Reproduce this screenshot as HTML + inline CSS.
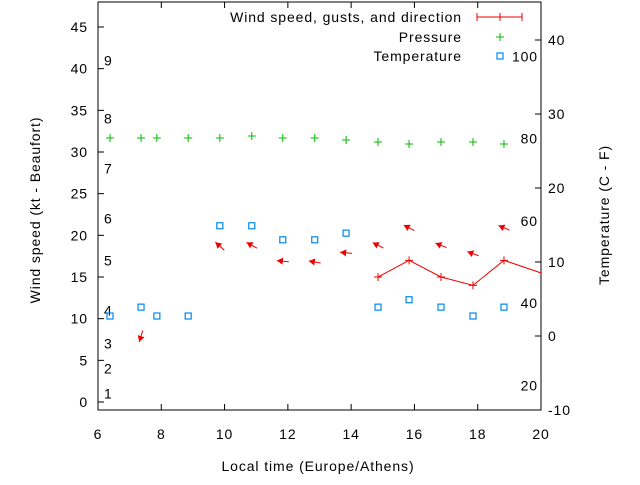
<!DOCTYPE html>
<html><head><meta charset="utf-8"><style>
body{margin:0;background:#fff;}
svg text{font-family:"Liberation Sans",sans-serif;font-size:14px;letter-spacing:0.9px;fill:#000;}
</style></head><body>
<svg id="chart" width="640" height="480" xmlns="http://www.w3.org/2000/svg">
<rect x="0" y="0" width="640" height="480" fill="#fff"/>
<g id="axes"></g>
<g id="marks"></g>
<g>
<text x="462" y="22" text-anchor="end">Wind speed, gusts, and direction</text>
<line x1="477" y1="17" x2="522" y2="17" stroke="#e00" stroke-width="1"/>
<line x1="477" y1="13" x2="477" y2="21" stroke="#e00"/><line x1="522" y1="13" x2="522" y2="21" stroke="#e00"/><line x1="500" y1="13" x2="500" y2="21" stroke="#e00"/>
<text x="462" y="42" text-anchor="end">Pressure</text>
<path d="M496 37h8M500 33v8" stroke="#0b0" stroke-width="1"/>
<text x="462" y="61" text-anchor="end">Temperature</text>
<rect x="497" y="53" width="6" height="6" fill="none" stroke="#08e" stroke-width="1.2"/>
</g>
<text transform="translate(40,210) rotate(-90)" text-anchor="middle">Wind speed (kt - Beaufort)</text>
<text transform="translate(609,215) rotate(-90)" text-anchor="middle">Temperature (C - F)</text>
<text x="318" y="471" text-anchor="middle">Local time (Europe/Athens)</text>
</svg>
<script>
const xTicks=[6,8,10,12,14,16,18,20];
const yTicks=[0,5,10,15,20,25,30,35,40,45];
const y2Ticks=[-10,0,10,20,30,40];
const beaufortLabels=["1","2","3","4","5","6","7","8","9"];
const beaufortKt=[1,4,7,11,17,22,28,34,41];
const fahrenheitLabels=["20","40","60","80","100"];
const tempTimes=[6.38,7.36,7.86,8.85,9.85,10.86,11.84,12.85,13.84,14.85,15.83,16.84,17.85,18.83];
const tempValues=[2.7,3.9,2.7,2.7,14.9,14.9,13,13,13.9,3.9,4.9,3.9,2.7,3.9];
const pressureValues=[1016,1016,1016,1016,1016,1017,1016,1016,1015,1014,1013,1014,1014,1013];
const windTimes=[14.85,15.83,16.84,17.85,18.83,21];
const windSpeeds=[15,17,15,14,17,14.2];
const arrowTimes=[7.36,9.85,10.86,11.84,12.85,13.84,14.85,15.83,16.84,17.85,18.83];
const gustSpeeds=[7.9,18.7,18.8,16.9,16.8,17.9,18.8,20.9,18.8,17.8,20.9];
const arrowAngles=[253,138,151,175,170,175,153,153,158,160,157];
const NS="http://www.w3.org/2000/svg";
const L=98,R=541,B=410,T=2;
const X=t=>L+(t-6)*(R-L)/14;
const Y=v=>402-v*375/45;
const Y2=c=>336-c*7.4;
const YF=f=>Y2((f-32)*5/9);
const YP=p=>138-(p-1016)*2;
const ax=document.getElementById('axes'),mk=document.getElementById('marks');
function el(p,tag,a){const e=document.createElementNS(NS,tag);for(const k in a)e.setAttribute(k,a[k]);p.appendChild(e);return e;}
const frame=el(ax,'rect',{x:L,y:T,width:R-L,height:B-T,fill:'none',stroke:'#000','stroke-width':1});


xTicks.forEach(t=>{const x=X(t);
el(ax,'line',{x1:x,y1:B,x2:x,y2:B-6,stroke:'#000'});el(ax,'line',{x1:x,y1:T,x2:x,y2:T+6,stroke:'#000'});
const tx=el(ax,'text',{x:x,y:439,'text-anchor':'middle'});tx.textContent=t;

});
yTicks.forEach(v=>{const y=Y(v);el(ax,'line',{x1:L,y1:y,x2:L+6,y2:y,stroke:'#000'});
const tx=el(ax,'text',{x:L-10,y:y+5,'text-anchor':'end'});tx.textContent=v;

});
y2Ticks.forEach(v=>{const y=Y2(v);el(ax,'line',{x1:R,y1:y,x2:R-6,y2:y,stroke:'#000'});
const tx=el(ax,'text',{x:R+7,y:y+5});tx.textContent=v;

});
beaufortLabels.forEach((s,i)=>{const tx=el(ax,'text',{x:104,y:Y(beaufortKt[i])+5});tx.textContent=s;

});
fahrenheitLabels.forEach(s=>{const tx=el(ax,'text',{x:538,y:YF(+s)+5,'text-anchor':'end'});tx.textContent=s;

});
const cp=el(mk,'clipPath',{id:'clip'});el(cp,'rect',{x:L,y:T,width:R-L,height:B-T});
const g=el(mk,'g',{'clip-path':'url(#clip)'});
tempTimes.forEach((t,i)=>{const r=el(g,'rect',{x:X(t)-3,y:Y2(tempValues[i])-3,width:6,height:6,fill:'none',stroke:'#08e','stroke-width':1.2});


const p=el(g,'path',{d:`M${X(t)-4} ${YP(pressureValues[i])}h8M${X(t)} ${YP(pressureValues[i])-4}v8`,stroke:'#0b0'});

});
const wl=el(g,'polyline',{points:windTimes.map((t,i)=>X(t)+','+Y(windSpeeds[i])).join(' '),fill:'none',stroke:'#e00'});


windTimes.forEach((t,i)=>{const p=el(g,'path',{d:`M${X(t)-4} ${Y(windSpeeds[i])}h8M${X(t)} ${Y(windSpeeds[i])-4}v8`,stroke:'#e00'});

});
arrowTimes.forEach((t,i)=>{const cx=X(t),cy=Y(gustSpeeds[i]),a=arrowAngles[i]*Math.PI/180;
const dx=Math.cos(a),dy=-Math.sin(a),len=6;
const hx=cx+dx*len,hy=cy+dy*len,tx=cx-dx*len,ty=cy-dy*len;
const px=-dy,py=dx;
const ag=el(g,'g',{});


el(ag,'line',{x1:tx,y1:ty,x2:hx,y2:hy,stroke:'#e00'});
el(ag,'polygon',{points:`${hx},${hy} ${hx-dx*6+px*3.5},${hy-dy*6+py*3.5} ${hx-dx*6-px*3.5},${hy-dy*6-py*3.5}`,fill:'#e00'});});
</script>
</body></html>
